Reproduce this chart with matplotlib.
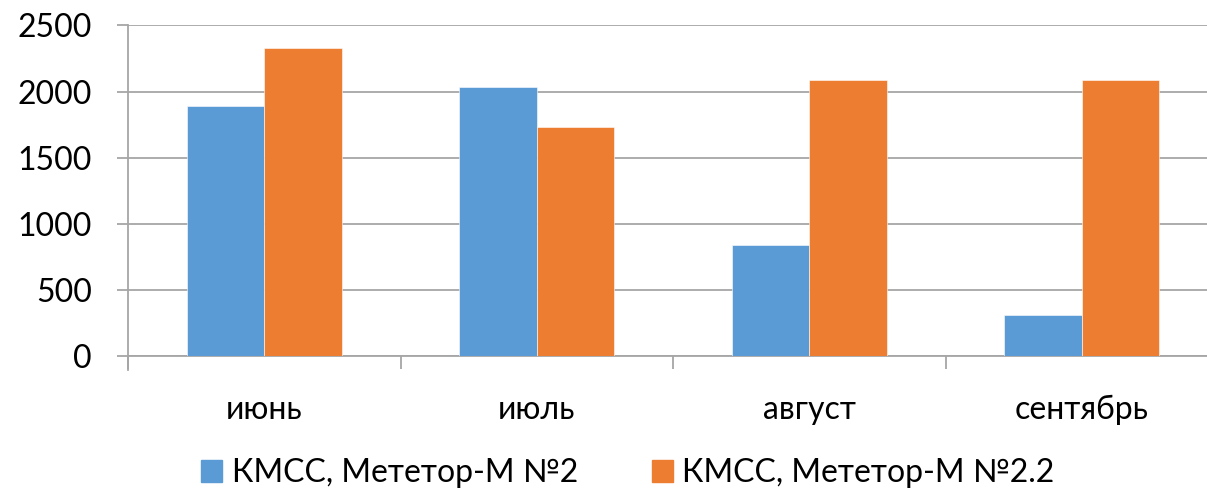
import matplotlib
matplotlib.use("Agg")
import matplotlib.pyplot as plt
import numpy as np
from matplotlib.patches import Patch
from matplotlib.ticker import FixedLocator

plt.rcParams['font.family'] = ['Lato', 'DejaVu Sans']

months = ["июнь", "июль", "август", "сентябрь"]
series_names = ["КМСС, Мететор-М №2", "КМСС, Мететор-М №2.2"]
meteor_2 = [1890, 2035, 840, 310]
meteor_2_2 = [2330, 1735, 2085, 2087]
y_ticks = [0, 500, 1000, 1500, 2000, 2500]

blue = "#5B9BD5"
orange = "#ED7D31"
grid_gray = "#A6A6A6"

fig = plt.figure(figsize=(12.07, 4.90), dpi=100)
ax = fig.add_axes([128 / 1207, 1 - 356.3 / 490, 1090 / 1207, 331 / 490])

x = np.arange(len(months))
w = 0.284
ax.bar(x - w / 2, meteor_2, width=w, color=blue, edgecolor="white", linewidth=0.4, zorder=3)
ax.bar(x + w / 2, meteor_2_2, width=w, color=orange, edgecolor="white", linewidth=0.4, zorder=3)

# spines first: repositioning a spine resets its axis tick styling
for side in ("top", "right"):
    ax.spines[side].set_visible(False)
for side in ("left", "bottom"):
    ax.spines[side].set_color(grid_gray)
    ax.spines[side].set_linewidth(1.3)
ax.spines["left"].set_position(("data", -0.5))
ax.spines["left"].set_bounds(-100, 2500)

ax.set_xlim(-0.5, len(months) - 0.5)
ax.set_ylim(0, 2500)
ax.set_yticks(y_ticks)
ax.set_yticklabels([str(v) for v in y_ticks])
ax.yaxis.grid(True, color=grid_gray, linewidth=1.3, zorder=0)
ax.tick_params(axis="y", length=8, width=1.3, color=grid_gray, pad=18, labelsize=23)

ax.set_xticks(x)
ax.set_xticklabels(months)
ax.xaxis.set_minor_locator(FixedLocator(np.arange(-0.5, len(months), 1.0)))
ax.tick_params(axis="x", which="major", length=0, pad=28, labelsize=23)
ax.tick_params(axis="x", which="minor", length=9, width=1.3, color=grid_gray)

handles = [Patch(color=blue), Patch(color=orange)]
fig.legend(handles, series_names, loc="center", bbox_to_anchor=(628 / 1207, 1 - 473 / 490),
           ncol=2, frameon=False, fontsize=23, handlelength=0.66, handleheight=0.66,
           handletextpad=0.3, columnspacing=2.3)

fig.savefig("out.png", dpi=100)
